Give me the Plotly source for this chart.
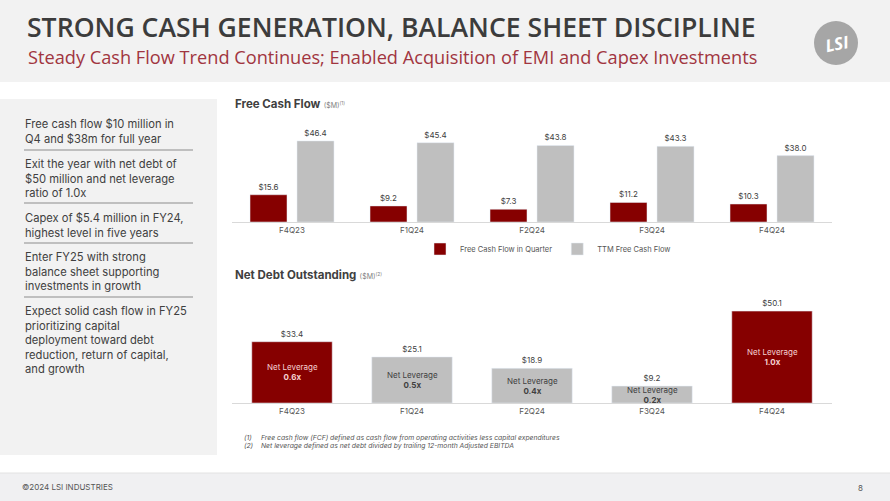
import plotly.graph_objects as go

W, H = 890, 501

quarters = ["F4Q23", "F1Q24", "F2Q24", "F3Q24", "F4Q24"]
fcf_quarter = [15.6, 9.2, 7.3, 11.2, 10.3]
fcf_ttm = [46.4, 45.4, 43.8, 43.3, 38.0]
net_debt = [33.4, 25.1, 18.9, 9.2, 50.1]
net_leverage = ["0.6x", "0.5x", "0.4x", "0.2x", "1.0x"]

title = "STRONG CASH GENERATION, BALANCE SHEET DISCIPLINE"
subtitle = "Steady Cash Flow Trend Continues; Enabled Acquisition of EMI and Capex Investments"
bullets = [
    "Free cash flow $10 million in<br>Q4 and $38m for full year",
    "Exit the year with net debt of<br>$50 million and net leverage<br>ratio of 1.0x",
    "Capex of $5.4 million in FY24,<br>highest level in five years",
    "Enter FY25 with strong<br>balance sheet supporting<br>investments in growth",
    "Expect solid cash flow in FY25<br>prioritizing capital<br>deployment toward debt<br>reduction, return of capital,<br>and growth",
]
footnotes = [
    ("(1)", "Free cash flow (FCF) defined as cash flow from operating activities less capital expenditures"),
    ("(2)", "Net leverage defined as net debt divided by trailing 12-month Adjusted EBITDA"),
]

RED = "#860000"
GREY = "#bfbfbf"
TXT = "#404040"
FONT = "Inter"


def px(x):
    return x / W


def py(y):
    return 1 - y / H


fig = go.Figure()

fig.add_trace(go.Bar(
    x=quarters, y=fcf_quarter, name="Free Cash Flow in Quarter",
    marker_color=RED, texttemplate="$%{y:.1f}", textposition="outside",
    textfont=dict(size=8, color=TXT, family=FONT), cliponaxis=False,
    xaxis="x", yaxis="y"))
fig.add_trace(go.Bar(
    x=quarters, y=fcf_ttm, name="TTM Free Cash Flow",
    marker_color=GREY, texttemplate="$%{y:.1f}", textposition="outside",
    textfont=dict(size=8, color=TXT, family=FONT), cliponaxis=False,
    xaxis="x", yaxis="y"))

debt_colors = [RED, GREY, GREY, GREY, RED]
fig.add_trace(go.Bar(
    x=quarters, y=net_debt, name="Net Debt", showlegend=False,
    marker_color=debt_colors, texttemplate="$%{y:.1f}", textposition="outside",
    textfont=dict(size=8, color=TXT, family=FONT), cliponaxis=False,
    width=0.67, xaxis="x2", yaxis="y2"))

ann = []
for q, v, lev, c in zip(quarters, net_debt, net_leverage, debt_colors):
    col = "#f6d2d2" if c == RED else TXT
    ann.append(dict(x=q, y=v / 2, xref="x2", yref="y2", showarrow=False,
                    text=f"Net Leverage<br><b>{lev}</b>",
                    font=dict(size=8, color=col, family=FONT)))

# header texts
ann.append(dict(x=px(25), y=py(27), xref="paper", yref="paper", xanchor="left", yanchor="middle",
                showarrow=False, text=title,
                font=dict(size=26.6, color="#3c3c3c", family="Open Sans", weight=600)))
ann.append(dict(x=px(26), y=py(57), xref="paper", yref="paper", xanchor="left", yanchor="middle",
                showarrow=False, text=subtitle, font=dict(size=18.2, color="#a13540", family="Open Sans")))
ann.append(dict(x=px(837), y=py(43), xref="paper", yref="paper", xanchor="center", yanchor="middle",
                showarrow=False, text="<b><i>LSI</i></b>", textangle=-12,
                font=dict(size=17, color="white", family="Open Sans")))

# chart titles
ann.append(dict(x=px(233), y=py(104), xref="paper", yref="paper", xanchor="left", yanchor="middle",
                showarrow=False,
                text="<b>Free Cash Flow</b> <span style='font-size:7px;color:#808080'>($M)<sup>(1)</sup></span>",
                font=dict(size=11.5, color=TXT, family=FONT)))
ann.append(dict(x=px(233), y=py(275), xref="paper", yref="paper", xanchor="left", yanchor="middle",
                showarrow=False,
                text="<b>Net Debt Outstanding</b> <span style='font-size:7px;color:#808080'>($M)<sup>(2)</sup></span>",
                font=dict(size=11.5, color=TXT, family=FONT)))

# left panel bullets
bullet_tops = [115, 155, 209, 248, 302]
for t, y in zip(bullets, bullet_tops):
    ann.append(dict(x=px(23), y=py(y), xref="paper", yref="paper", xanchor="left", yanchor="top",
                    align="left", showarrow=False, text=t,
                    font=dict(size=11.2, color=TXT, family=FONT)))

# footnotes
for (n, t), y in zip(footnotes, [437, 445]):
    ann.append(dict(x=px(242), y=py(y), xref="paper", yref="paper", xanchor="left", yanchor="middle",
                    showarrow=False, text=f"<i>{n}</i>", font=dict(size=6.8, color="#555555", family=FONT)))
    ann.append(dict(x=px(259), y=py(y), xref="paper", yref="paper", xanchor="left", yanchor="middle",
                    showarrow=False, text=f"<i>{t}</i>", font=dict(size=6.8, color="#555555", family=FONT)))

# footer
ann.append(dict(x=px(20), y=py(487), xref="paper", yref="paper", xanchor="left", yanchor="middle",
                showarrow=False, text="©2024 LSI INDUSTRIES", font=dict(size=8, color="#555555", family=FONT)))
ann.append(dict(x=px(860), y=py(488), xref="paper", yref="paper", xanchor="center", yanchor="middle",
                showarrow=False, text="8", font=dict(size=8, color="#555555", family=FONT)))

shapes = [
    dict(type="rect", xref="paper", yref="paper", x0=0, x1=1, y0=py(82), y1=1,
         fillcolor="#f2f2f2", line_width=0, layer="below"),
    dict(type="rect", xref="paper", yref="paper", x0=0, x1=px(217), y0=py(455), y1=py(99),
         fillcolor="#f2f2f2", line_width=0, layer="below"),
    dict(type="rect", xref="paper", yref="paper", x0=0, x1=1, y0=0, y1=py(473),
         fillcolor="#f0f0f2", line_width=0, layer="below"),
    dict(type="line", xref="paper", yref="paper", x0=0, x1=1, y0=py(473), y1=py(473),
         line=dict(color="#e2e2e2", width=1), layer="below"),
    dict(type="circle", xref="paper", yref="paper", x0=px(814), x1=px(858), y0=py(65), y1=py(21),
         fillcolor="#a6a6a6", line_width=0, layer="below"),
]
for y in [150, 203, 243, 297]:
    shapes.append(dict(type="line", xref="paper", yref="paper", x0=px(24), x1=px(193),
                       y0=py(y), y1=py(y), line=dict(color="#8c8c8c", width=1)))

axis_common = dict(showgrid=False, zeroline=False, showline=True, linecolor="#d9d9d9",
                   linewidth=1, ticks="", tickfont=dict(size=8, color="#555555", family=FONT),
                   domain=[px(232), px(832)], fixedrange=True)

fig.update_layout(
    width=W, height=H, margin=dict(l=0, r=0, t=0, b=0),
    paper_bgcolor="white", plot_bgcolor="rgba(0,0,0,0)",
    barmode="group", bargap=0.217, bargroupgap=0.213,
    xaxis=dict(**axis_common, anchor="y"),
    yaxis=dict(domain=[py(222), py(110)], range=[0, 64.1], visible=False, fixedrange=True),
    xaxis2=dict(**axis_common, anchor="y2"),
    yaxis2=dict(domain=[py(403), py(290)], range=[0, 61.6], visible=False, fixedrange=True),
    legend=dict(orientation="h", x=px(548), xanchor="center", y=py(249), yanchor="middle",
                font=dict(size=7.5, color="#555555", family=FONT), itemwidth=30,
                bgcolor="rgba(0,0,0,0)", traceorder="normal"),
    annotations=ann, shapes=shapes, font=dict(family=FONT),
)

fig.write_html("out.html", config=dict(displayModeBar=False),
               post_script="document.body.style.margin='0';")
